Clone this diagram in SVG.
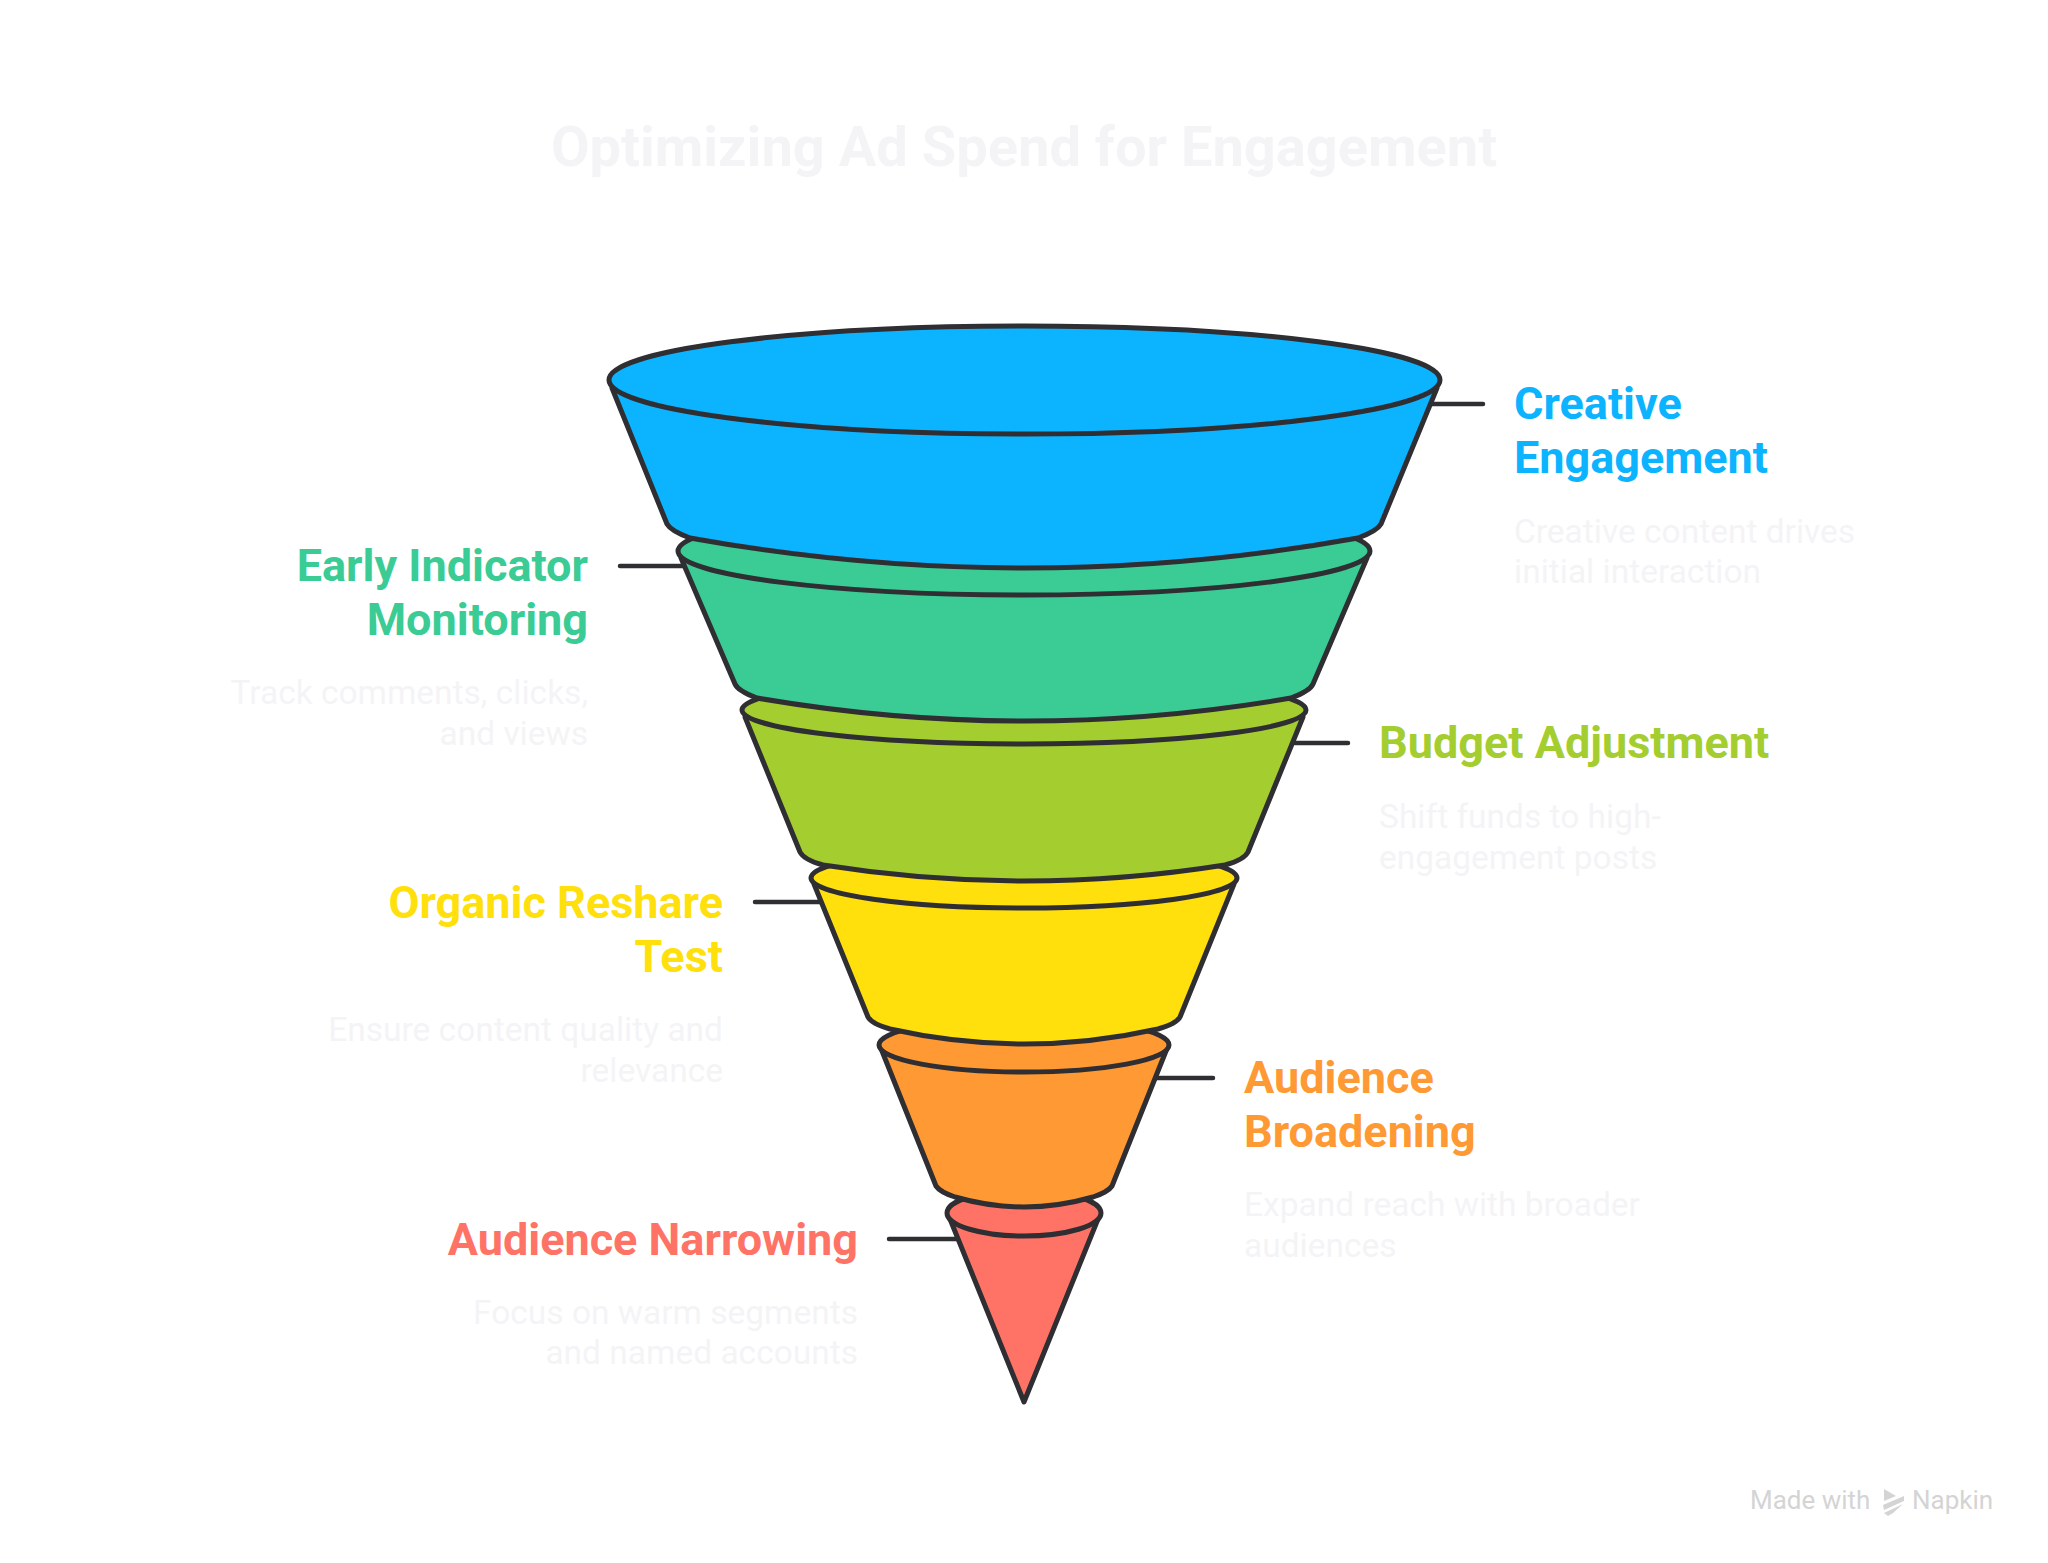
<svg xmlns="http://www.w3.org/2000/svg" width="2048" height="1563" viewBox="0 0 2048 1563">
<style>
text{font-family:Roboto,"Liberation Sans",sans-serif}
.s{stroke:#2e2e33;stroke-width:5;stroke-linejoin:round;stroke-linecap:round}
.c{fill:none;stroke:#2e2e33;stroke-width:4.5;stroke-linecap:round}
.h{font-size:45px;font-weight:700}
.d{font-size:33.5px;fill:#f4f4f6}
.e{text-anchor:end}
.t{font-size:56px;font-weight:700;fill:#f4f4f6;text-anchor:middle}
</style>
<rect width="2048" height="1563" fill="#fff"/>
<text class="t" x="1024" y="166">Optimizing Ad Spend for Engagement</text>
<g id="connectors">
<path class="c" d="M1430 404H1483M620 566H690M1295 743H1348M755 902H825M1157 1078H1213M889 1239H960"/>
</g>
<g id="node-audience-narrowing">
<path class="s" fill="#ff7366" d="M950 1219L1024 1402L1098 1219Z"/>
<ellipse class="s" fill="#ff7366" cx="1024" cy="1213" rx="77" ry="23"/>
<text class="h e" fill="#ff7366" x="858" y="1255">Audience Narrowing</text>
<text class="d e" x="858" y="1324">Focus on warm segments</text>
<text class="d e" x="858" y="1364">and named accounts</text>
</g>
<g id="node-audience-broadening">
<path class="s" fill="#ff9933" d="M882 1051L936 1186Q940 1192 955 1197Q1024 1217 1093 1197Q1108 1192 1112 1186L1166 1051Z"/>
<ellipse class="s" fill="#ff9933" cx="1024" cy="1045" rx="145" ry="27"/>
<text class="h" fill="#ff9933" x="1244" y="1093">Audience</text>
<text class="h" fill="#ff9933" x="1244" y="1147">Broadening</text>
<text class="d" x="1244" y="1216">Expand reach with broader</text>
<text class="d" x="1244" y="1257">audiences</text>
</g>
<g id="node-organic-reshare">
<path class="s" fill="#ffdf0c" d="M814 884L868 1017Q872 1024 890 1029Q1024 1059 1158 1029Q1176 1024 1180 1017L1234 884Z"/>
<ellipse class="s" fill="#ffdf0c" cx="1024" cy="878" rx="213" ry="30"/>
<text class="h e" fill="#ffdf0c" x="723" y="918">Organic Reshare</text>
<text class="h e" fill="#ffdf0c" x="723" y="972">Test</text>
<text class="d e" x="723" y="1041">Ensure content quality and</text>
<text class="d e" x="723" y="1082">relevance</text>
</g>
<g id="node-budget-adjustment">
<path class="s" fill="#a4cd30" d="M745 717L800 852Q804 860 823 865Q1024 897 1225 865Q1244 860 1248 852L1303 717Z"/>
<ellipse class="s" fill="#a4cd30" cx="1024" cy="710" rx="282" ry="34"/>
<text class="h" fill="#a4cd30" x="1379" y="758">Budget Adjustment</text>
<text class="d" x="1379" y="828">Shift funds to high-</text>
<text class="d" x="1379" y="869">engagement posts</text>
</g>
<g id="node-early-indicator">
<path class="s" fill="#3acc94" d="M681 558L735 684Q738 691 757 698Q1024 744 1291 698Q1310 691 1313 684L1367 558Z"/>
<ellipse class="s" fill="#3acc94" cx="1024" cy="551" rx="346" ry="44"/>
<text class="h e" fill="#3acc94" x="588" y="581">Early Indicator</text>
<text class="h e" fill="#3acc94" x="588" y="635">Monitoring</text>
<text class="d e" x="588" y="704">Track comments, clicks,</text>
<text class="d e" x="588" y="745">and views</text>
</g>
<g id="node-creative-engagement">
<path class="s" fill="#0cb4ff" d="M612 388L667 524Q671 531 690 538Q1024 598 1358 538Q1377 531 1381 524L1437 388Z"/>
<ellipse class="s" fill="#0cb4ff" cx="1024.5" cy="380" rx="415.5" ry="54"/>
<text class="h" fill="#0cb4ff" x="1514" y="419">Creative</text>
<text class="h" fill="#0cb4ff" x="1514" y="473">Engagement</text>
<text class="d" x="1514" y="543">Creative content drives</text>
<text class="d" x="1514" y="583">initial interaction</text>
</g>
<g id="watermark" fill="#d4d4d4">
<text x="1750" y="1509" font-size="26" fill="#d4d4d4">Made with</text>
<path d="M1884 1489L1896 1496L1884 1501ZM1883 1505L1904 1496L1904 1501L1884 1510ZM1884 1513L1903 1504L1893 1513L1888 1516Z"/>
<text x="1912" y="1509" font-size="26" fill="#d4d4d4">Napkin</text>
</g>
</svg>
